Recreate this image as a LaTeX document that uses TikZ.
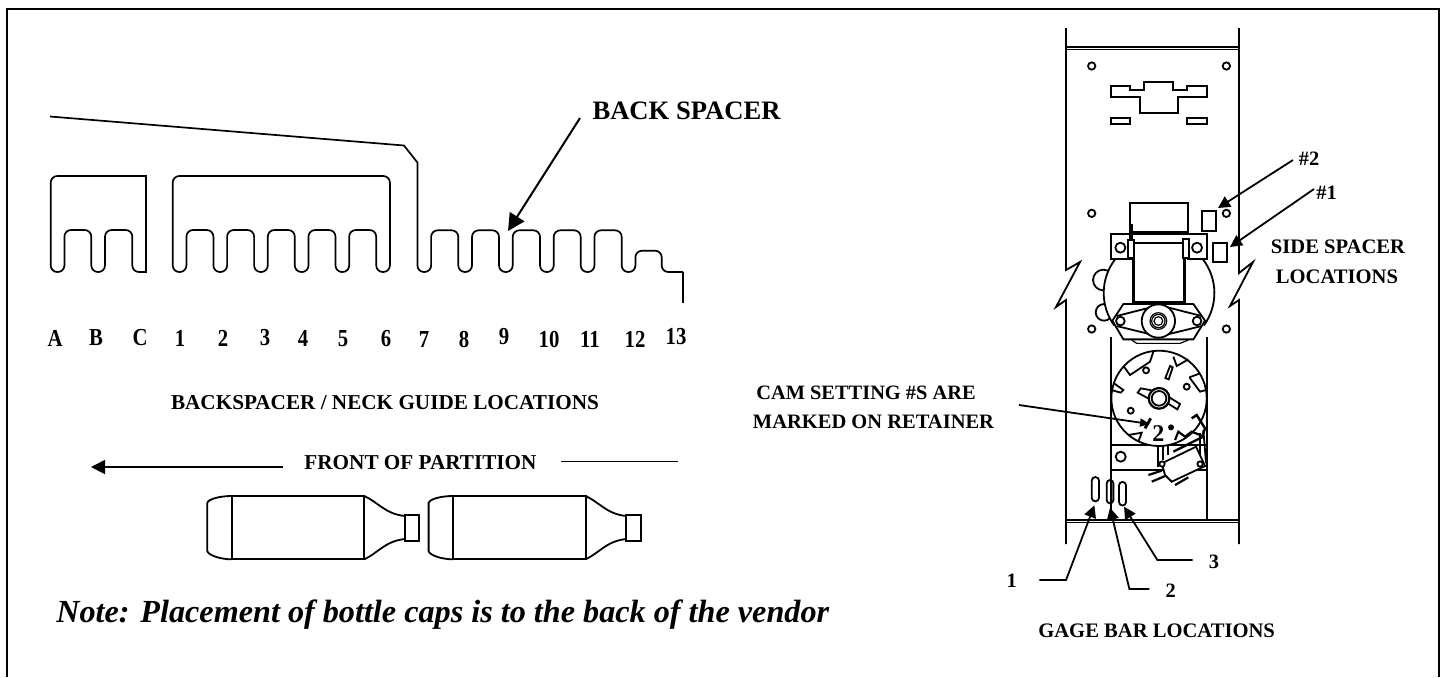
\documentclass[tikz,border=0pt]{standalone}
\usepackage{fontspec}
\usepackage{graphicx}
\setmainfont{Liberation Serif}
\usetikzlibrary{arrows.meta}
\newcommand{\narrowtext}[1]{\scalebox{0.85}[1]{#1}}
\tikzset{
  ln/.style={line width=0.9pt,line join=miter},
  thin ln/.style={line width=0.6pt},
  thick ln/.style={line width=1.7pt},
  comb/.style={line width=0.85pt,rounded corners=3.3pt},
  big tip/.style={line width=1pt,-{Triangle[length=8.5pt,width=8.5pt]}},
  small tip/.style={line width=0.9pt,-{Triangle[length=6pt,width=6pt]}},
  lab/.style={inner sep=0pt,font=\bfseries\fontsize{10.2}{12}\selectfont,align=center},
  wide lab/.style={inner sep=0pt,font=\bfseries\fontsize{10.6}{12}\selectfont,align=center},
  tall lab/.style={inner sep=0pt,font=\bfseries\fontsize{12.2}{14}\selectfont},
  hole/.style={line width=0.9pt,fill=white},
}
\begin{document}
\begin{tikzpicture}[x=0.5pt,y=-0.5pt]
\useasboundingbox (0,0) rectangle (1446,677);
% frame
\draw[line width=1.1pt] (7,677) -- (7,9) -- (1439,9) -- (1439,677);
% combs
\draw[comb] (100,176) -- (50.7,176) -- (50.7,272) -- (64.4,272) -- (64.4,230) -- (91.3,230) -- (91.3,272) -- (105,272) -- (105,230) -- (132.3,230) -- (132.3,272) -- (146,272);
\draw[line width=0.85pt,line cap=rect] (100,176) -- (146,176) -- (146,272);
\draw[comb] (280,176) -- (389.9,176) -- (389.9,272) -- (376.2,272) -- (376.2,230) -- (349.2,230) -- (349.2,272) -- (335.5,272) -- (335.5,230) -- (308.5,230) -- (308.5,272) -- (294.8,272) -- (294.8,230) -- (267.8,230) -- (267.8,272) -- (254.1,272) -- (254.1,230) -- (227.1,230) -- (227.1,272) -- (213.4,272) -- (213.4,230) -- (186.4,230) -- (186.4,272) -- (172.7,272) -- (172.7,176) -- cycle;
\draw[line width=0.85pt] (50,116.5) -- (404,145.5) -- (417.4,162.5) -- (417.4,240);
\draw[comb] (417.4,240) -- (417.4,272) -- (431.1,272) -- (431.1,230.3) -- (458.3,230.3) -- (458.3,272) -- (472,272) -- (472,230.3) -- (499,230.3) -- (499,272) -- (512.7,272) -- (512.7,230.3) -- (540,230.3) -- (540,272) -- (553.7,272) -- (553.7,230.3) -- (580.7,230.3) -- (580.7,272) -- (594.4,272) -- (594.4,230.3) -- (621.7,230.3) -- (621.7,272) -- (635.4,272) -- (635.4,250.7) -- (661.7,250.7) -- (661.7,272) -- (683,272);
\draw[line width=0.85pt] (683,271.7) -- (683,303);
% back spacer
\node[lab,font=\bfseries\fontsize{13.3}{15}\selectfont] (backspacer) at (686.5,110.5) {BACK SPACER};
\coordinate (bsfrom) at (580,118);
\coordinate (bsto) at (508,231);
\draw[big tip] (bsfrom) -- (bsto);
% letters
\node[tall lab] (lA) at (55,338) {\narrowtext{A}};
\node[tall lab] (lB) at (96,338) {\narrowtext{B}};
\node[tall lab] (lC) at (140,338) {\narrowtext{C}};
\node[tall lab] (n1) at (180,338) {\narrowtext{1}};
\node[tall lab] (n2) at (223,338) {\narrowtext{2}};
\node[tall lab] (n3) at (265,338) {\narrowtext{3}};
\node[tall lab] (n4) at (303,338) {\narrowtext{4}};
\node[tall lab] (n5) at (343,339) {\narrowtext{5}};
\node[tall lab] (n6) at (386,339) {\narrowtext{6}};
\node[tall lab] (n7) at (424,339) {\narrowtext{7}};
\node[tall lab] (n8) at (464,339) {\narrowtext{8}};
\node[tall lab] (n9) at (504,337) {\narrowtext{9}};
\node[tall lab] (n10) at (549,339) {\narrowtext{10}};
\node[tall lab] (n11) at (590,339) {\narrowtext{11}};
\node[tall lab] (n12) at (635,339) {\narrowtext{12}};
\node[tall lab] (n13) at (676,337) {\narrowtext{13}};
\node[wide lab] (neck) at (385,403) {BACKSPACER / NECK GUIDE LOCATIONS};
\node[wide lab] (front) at (420.5,463) {FRONT OF PARTITION};
\coordinate (fl1) at (283,467);
\coordinate (fl2) at (91,467);
\coordinate (fr1) at (561,461.5);
\coordinate (fr2) at (678,461.5);
\draw[line width=0.9pt,-{Triangle[length=7pt,width=7pt]}] (fl1) -- (fl2);
\draw[line width=0.9pt] (fr1) -- (fr2);
% bottles
\foreach \dx in {0,221.3}{
\begin{scope}[shift={(\dx,0)}]
\draw[ln] (231.7,496) rectangle (364.3,559.3);
\draw[ln] (231.7,496) .. controls (220,496) and (208,499) .. (207.3,503) -- (207.3,551) .. controls (208,555) and (220,559.3) .. (231.7,559.3);
\draw[ln] (364.3,496) .. controls (378,502) and (385,514) .. (405,516);
\draw[ln] (364.3,559.3) .. controls (378,553) and (385,541) .. (405,539);
\draw[ln] (405,515) rectangle (419.3,540.7);
\end{scope}}
\node[inner sep=0pt,anchor=west,font=\bfseries\itshape\fontsize{16.1}{18}\selectfont] (note) at (56,615) {Note: Placement of bottle caps is to the back of the vendor};
% device outer
\draw[ln] (1066,28) -- (1066,270) -- (1080,262) -- (1056,307) -- (1066,300) -- (1066,544);
\draw[ln] (1239,28) -- (1239,273) -- (1253,262) -- (1230,306) -- (1239,300) -- (1239,544);
\draw[ln] (1066,47) -- (1239,47);
\draw[ln] (1066,49.5) -- (1239,49.5);
\draw[ln] (1066,520) -- (1239,520);
\draw[ln] (1066,522.5) -- (1239,522.5);
\begin{scope}[x=0.16667pt,y=-0.16667pt,shift={(3000,0)}]
\foreach \p in {(275,198),(679,198),(275,640),(679,640),(275,987),(679,987)}{\draw[hole] \p circle (11);}
\draw[ln] (333,257) -- (390,257) -- (390,270) -- (433,270) -- (433,245) -- (520,245) -- (520,270) -- (562,270) -- (562,257) -- (620,257) -- (620,291) -- (533,291) -- (533,338) -- (420,338) -- (420,291) -- (333,291) -- cycle;
\draw[ln] (333,355) rectangle (390,373);
\draw[ln] (562,355) rectangle (620,373);
\draw[ln] (605,632) rectangle (647,692);
\draw[ln] (638,728) rectangle (680,785);
\end{scope}
% motor
\begin{scope}[x=0.16667pt,y=-0.16667pt,shift={(3270,570)}]
\draw[ln] (40,270) circle (31);
\draw[ln] (42,367) circle (25);
\fill[white] (207,309) circle (166);
\draw[ln] (207,309) ++(218:166) arc[start angle=218,end angle=144,radius=166];
\draw[ln] (207,309) ++(-38:166) arc[start angle=-38,end angle=36,radius=166];
\draw[ln] (120,40) rectangle (295,125);
\draw[thin ln] (125,130) -- (290,130);
\draw[ln] (125,207) -- (63,207) -- (63,133) -- (352,133) -- (352,207) -- (290,207);
\draw[ln] (130,158) -- (283,158);
\draw[thick ln] (130,158) -- (130,338) -- (283,338) -- (283,158);
\draw[hole] (91,173) circle (15);
\draw[hole] (321,173) circle (15);
\draw[ln,fill=white] (113,150) rectangle (131,205);
\draw[ln,fill=white] (280,148) rectangle (298,205);
\draw[line width=2pt] (123,103) -- (123,150);
\draw[ln] (63,440) -- (63,990);
\draw[ln] (352,440) -- (352,990);
\draw[ln,fill=white] (100,342) -- (310,342) -- (345,392) -- (310,448) -- (100,448) -- (67,392) -- cycle;
\draw[thin ln] (125,450) -- (140,460) -- (270,460) -- (295,450);
\draw[ln] (80,378) -- (190,350);
\draw[ln] (80,408) -- (190,435);
\draw[ln] (225,350) -- (335,378);
\draw[ln] (225,435) -- (335,408);
\draw[hole] (91,393) circle (13);
\draw[hole] (321,393) circle (13);
\draw[hole] (205,393) circle (50);
\draw[thin ln] (205,393) circle (25);
\draw[thin ln] (205,393) circle (20);
\draw[thin ln] (205,393) circle (13);
\end{scope}
% cam
\begin{scope}[x=0.16667pt,y=-0.16667pt,shift={(3270,1020)}]
\draw[ln] (63,315) -- (352,315);
\draw[ln] (63,390) -- (352,390);
\draw[ln] (92,350) circle (15);
\draw[ln,fill=white] (207,175) circle (143);
\draw[ln] (190,35) -- (180,65) -- (120,105) -- (100,78);
\draw[ln] (250,50) -- (260,78) -- (295,58);
\draw[ln] (298,112) -- (330,100);
\draw[ln] (298,112) -- (330,155) -- (348,150);
\draw[ln] (72,130) -- (100,150) -- (92,158) -- (65,150);
\draw[ln] (115,285) -- (155,278) -- (145,305);
\draw[ln] (168,91) circle (9);
\draw[ln] (290,140) circle (9);
\draw[ln] (122,212) circle (9);
\draw[ln] (240,78) -- (248,82) -- (236,118) -- (226,114) -- cycle;
\draw[ln,fill=white] (152,145) -- (143,158) -- (180,178) -- (233,190) -- (262,208) -- (270,192) -- (235,170) -- (180,150) -- cycle;
\draw[line width=1.1pt,fill=white] (207,175) circle (31);
\draw[ln] (207,175) circle (22);
\fill (243,262) circle (9);
\draw[line width=1.4pt] (165,265) -- (182,235);
\node[lab,font=\bfseries\fontsize{12}{14}\selectfont] (camtwo) at (205,282) {2};
% switch
\draw[ln] (205,318) -- (205,380);
\draw[ln] (220,318) -- (220,360);
\draw[ln] (235,318) -- (235,345);
\draw[ln] (330,280) -- (330,370);
\draw[ln] (340,270) -- (348,370);
\draw[ln,fill=white] (215,370) -- (318,320) -- (345,378) -- (245,425) -- (225,405) -- cycle;
\draw[line width=1.2pt] (305,235) -- (320,225) -- (345,265) -- (335,292) -- (250,335);
\draw[line width=1.1pt] (255,300) -- (265,275) -- (285,290) -- (305,275) -- (330,285);
\draw[line width=1.1pt] (175,405) -- (215,392);
\draw[line width=1.1pt] (185,425) -- (225,408);
\draw[line width=1.1pt] (255,435) -- (295,412);
\draw[hole] (216,372) circle (8);
\draw[hole] (330,372) circle (8);
\end{scope}
% side spacer labels and leaders
\node[lab] (hash2) at (1309,159) {\#2};
\node[lab] (hash1) at (1326.5,193) {\#1};
\coordinate (h2from) at (1293,160);
\coordinate (h2to) at (1218,208);
\coordinate (h1from) at (1314,189);
\coordinate (h1to) at (1230,247);
\draw[small tip] (h2from) -- (h2to);
\draw[small tip] (h1from) -- (h1to);
\node[lab,font=\bfseries\fontsize{10.3}{12}\selectfont] (side1) at (1338,247) {SIDE SPACER};
\node[lab,font=\bfseries\fontsize{10.3}{12}\selectfont] (side2) at (1337,277) {LOCATIONS};
% cam label
\node[lab] (cam1) at (866,393) {CAM SETTING \#S ARE};
\node[lab,font=\bfseries\fontsize{10.25}{12}\selectfont] (cam2) at (873.5,422) {MARKED ON RETAINER};
\coordinate (camfrom) at (1019,405);
\coordinate (camto) at (1150,424);
\draw[line width=0.9pt,-{Triangle[length=5pt,width=4pt]}] (camfrom) -- (camto);
% gage bars
\begin{scope}[x=0.16667pt,y=-0.16667pt,shift={(3000,990)}]
\draw[ln] (275,452) arc[start angle=180,end angle=360,radius=11] -- (297,503) arc[start angle=0,end angle=180,radius=11] -- cycle;
\draw[ln] (320,460) arc[start angle=180,end angle=360,radius=10] -- (340,510) arc[start angle=0,end angle=180,radius=10] -- cycle;
\draw[ln] (357,466) arc[start angle=180,end angle=360,radius=10.5] -- (378,516) arc[start angle=0,end angle=180,radius=10.5] -- cycle;
\coordinate (g1a) at (118,750);
\coordinate (g1b) at (198,750);
\coordinate (g1c) at (283,526);
\coordinate (g2a) at (448,777);
\coordinate (g2b) at (388,777);
\coordinate (g2c) at (330,533);
\coordinate (g3a) at (578,690);
\coordinate (g3b) at (472,690);
\coordinate (g3c) at (372,530);
\draw[small tip] (g1a) -- (g1b) -- (g1c);
\draw[small tip] (g2a) -- (g2b) -- (g2c);
\draw[small tip] (g3a) -- (g3b) -- (g3c);
\end{scope}
\node[lab] (g1) at (1011.7,581) {1};
\node[lab] (g2) at (1170.7,591) {2};
\node[lab] (g3) at (1214,562) {3};
\node[lab,font=\bfseries\fontsize{10.3}{12}\selectfont] (gage) at (1156.6,631) {GAGE BAR LOCATIONS};
\end{tikzpicture}
\end{document}
